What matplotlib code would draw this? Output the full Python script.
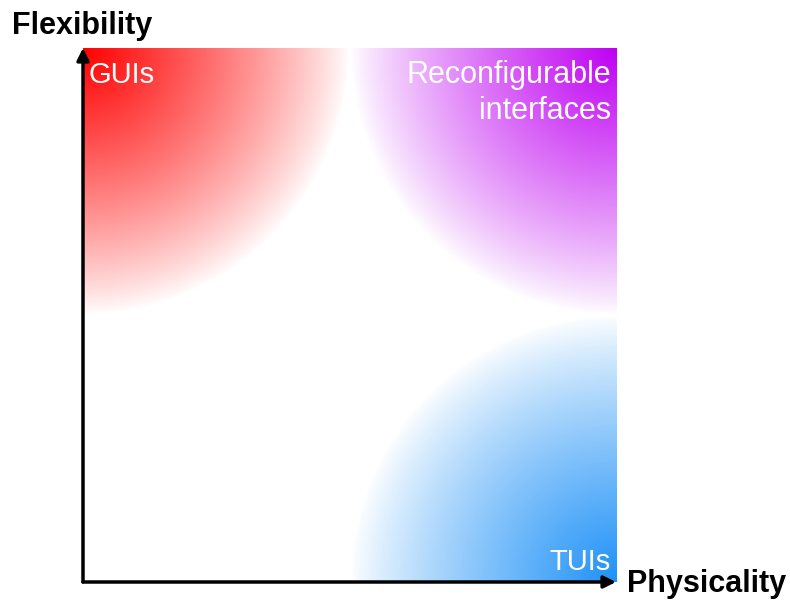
import numpy as np
import matplotlib
matplotlib.use("Agg")
import matplotlib.pyplot as plt

plt.rcParams['font.family'] = ['Liberation Sans', 'DejaVu Sans']

# quadrant labels and corner colours
labels = ["GUIs", "Reconfigurable\ninterfaces", "TUIs"]
corners = [(0, 2), (2, 2), (2, 0)]          # gradient centre (x, y) in data units
colors = [(1.0, 0.0, 0.0), (0.75, 0.0, 0.95), (0.12, 0.57, 0.97)]
extents = [(0, 1, 1, 2), (1, 2, 1, 2), (1, 2, 0, 1)]
x_label = "Physicality"
y_label = "Flexibility"

fig = plt.figure(figsize=(7.9, 6.01), dpi=100)
ax = fig.add_axes([83/790, 19/601, 533/790, 534/601])

n = 300
for (cx, cy), col, ext in zip(corners, colors, extents):
    xs = np.linspace(ext[0], ext[1], n)
    ys = np.linspace(ext[2], ext[3], n)
    X, Y = np.meshgrid(xs, ys)
    d = np.sqrt((X - cx)**2 + (Y - cy)**2)
    a = np.clip(1 - d, 0, 1)**0.85
    img = np.zeros((n, n, 4))
    img[..., :3] = col
    img[..., 3] = a
    ax.imshow(img, extent=ext, origin='lower', aspect='auto', interpolation='bilinear')

ax.set_xlim(0, 2)
ax.set_ylim(0, 2)
for s in ax.spines.values():
    s.set_visible(False)
ax.set_xticks([])
ax.set_yticks([])

# axis arrows
arr = dict(arrowstyle='-|>', lw=2.5, color='black', mutation_scale=18, shrinkA=0, shrinkB=0)
ax.annotate('', xy=(0, 2), xytext=(0, 0), arrowprops=arr, annotation_clip=False)
ax.annotate('', xy=(2, 0), xytext=(0, 0), arrowprops=arr, annotation_clip=False)

fig.text(12/790, 1 - 26/601, y_label, fontsize=22, fontweight='bold', va='center', ha='left')
fig.text(627/790, 1 - 584/601, x_label, fontsize=22, fontweight='bold', va='center', ha='left')

fig.text(89/790, 1 - 75/601, labels[0], fontsize=21, color='white', va='center', ha='left')
fig.text(611/790, 1 - 93/601, labels[1], fontsize=22, color='white', va='center', ha='right',
         multialignment='right', linespacing=1.25)
fig.text(611/790, 1 - 562/601, labels[2], fontsize=21, color='white', va='center', ha='right')

fig.savefig("out.png", dpi=100)
